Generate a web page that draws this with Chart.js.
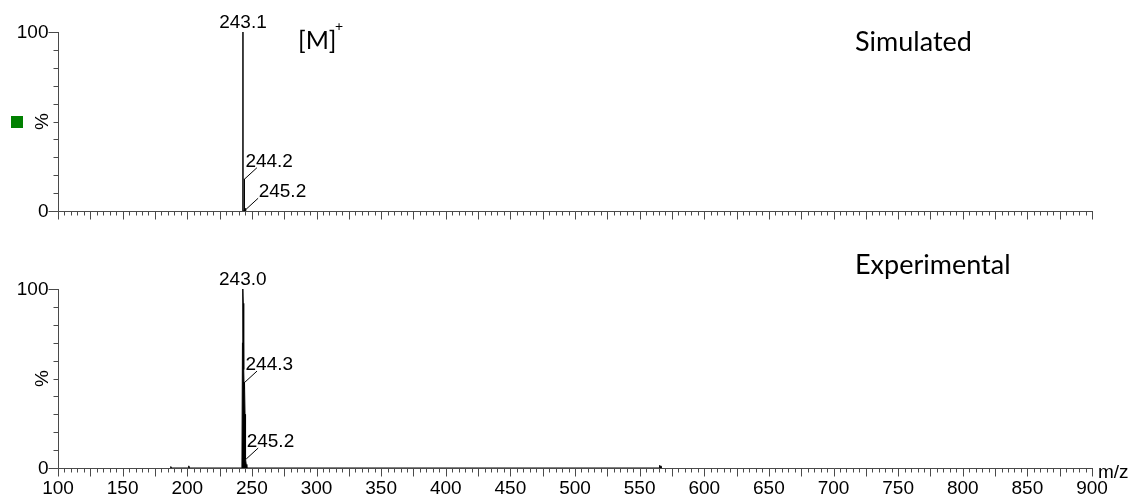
<!DOCTYPE html>
<html>
<head>
<meta charset="utf-8">
<script src="https://cdn.jsdelivr.net/npm/chart.js@4/dist/chart.umd.min.js"></script>
<style>
  body { margin: 0; background: #fff; width: 1137px; height: 497px; position: relative; overflow: hidden; }
  canvas { position: absolute; left: 0; }
  #simChart { top: 0; }
  #expChart { top: 250px; }
</style>
</head>
<body>
<canvas id="simChart" width="1137" height="245"></canvas>
<canvas id="expChart" width="1137" height="247"></canvas>
<script>
// --- data ---
const mzRange = [100, 900];
const intensityRange = [0, 100];
const xTickLabels = [100, 150, 200, 250, 300, 350, 400, 450, 500, 550, 600, 650, 700, 750, 800, 850, 900];
const yTickLabels = [0, 100];

// simulated isotope pattern (sticks)
const simMz = [243.1, 244.2, 245.2];
const simIntensity = [100, 18, 1.5];

// experimental profile
const expMz = [186.9, 187.3, 187.7, 200.8, 201.2, 201.6, 242.3, 242.7, 243.0, 243.3, 243.7, 244.0, 244.3, 244.7, 245.0, 245.2, 245.6, 246.1, 565.0, 565.5, 566.0, 566.5, 567.0];
const expIntensity = [0, 0.8, 0, 0, 1.2, 0, 0, 70, 100, 92, 55, 44, 48, 30, 9, 5, 2, 0, 0, 1.5, 0.6, 1.2, 0];

// peak annotations
const simPeakLabels = ['243.1', '244.2', '245.2'];
const simPeakMz = [243.1, 244.2, 245.2];
const simPeakInt = [100, 18, 1];
const expPeakLabels = ['243.0', '244.3', '245.2'];
const expPeakMz = [243.0, 244.3, 245.2];
const expPeakInt = [100, 48, 5];

// --- style ---
const axisColor = '#4a4a4a';
const tickFont = '19px "Liberation Sans", Arial, sans-serif';
const titleFont = '27px Lato, "Open Sans", sans-serif';

// build stick points (0 -> value -> 0) for each peak
function sticks(mz, inten) {
  const pts = [];
  mz.forEach((m, i) => {
    pts.push({ x: m, y: 0 }, { x: m, y: inten[i] }, { x: m, y: 0 });
  });
  return pts;
}

// axes, ticks, peak labels and side text drawn on the chart's own scales
const spectrumAxes = {
  id: 'spectrumAxes',
  afterDraw(chart, args, o) {
    const { ctx, scales: { x, y } } = chart;
    const base = Math.round(y.getPixelForValue(0)) + 0.5;
    const left = Math.round(x.getPixelForValue(mzRange[0])) + 0.5;
    ctx.save();
    ctx.strokeStyle = axisColor;
    ctx.lineWidth = 1;
    ctx.beginPath();
    ctx.moveTo(left, Math.round(y.getPixelForValue(100)));
    ctx.lineTo(left, base);
    ctx.lineTo(Math.round(x.getPixelForValue(mzRange[1])) + 1, base);
    // x ticks every 5, long every 25
    for (let v = mzRange[0]; v <= mzRange[1]; v += 5) {
      const px = Math.round(x.getPixelForValue(v)) + 0.5;
      const major = (v - mzRange[0]) % 25 === 0;
      ctx.moveTo(px, base);
      ctx.lineTo(px, base + (major ? 8 : 4));
    }
    // y ticks every 10, long at 0 and 100
    for (let v = 0; v <= 100; v += 10) {
      const py = Math.round(y.getPixelForValue(v)) + 0.5;
      const major = yTickLabels.includes(v);
      ctx.moveTo(left, py);
      ctx.lineTo(left - (major ? 10 : 5), py);
    }
    ctx.stroke();

    ctx.fillStyle = '#000';
    ctx.font = tickFont;
    ctx.textAlign = 'right';
    ctx.textBaseline = 'middle';
    yTickLabels.forEach(v => ctx.fillText(String(v), left - 10, y.getPixelForValue(v) + 1));

    if (o.xLabels) {
      ctx.textAlign = 'center';
      ctx.textBaseline = 'top';
      xTickLabels.forEach(v => ctx.fillText(String(v), x.getPixelForValue(v), base + 11));
      ctx.textAlign = 'left';
      ctx.textBaseline = 'alphabetic';
      ctx.fillText('m/z', x.getPixelForValue(mzRange[1]) + 6, base + 9);
    }

    // rotated %
    ctx.save();
    ctx.translate(43, (y.getPixelForValue(0) + y.getPixelForValue(100)) / 2);
    ctx.rotate(-Math.PI / 2);
    ctx.textAlign = 'center';
    ctx.textBaseline = 'middle';
    ctx.fillText('%', 0, 0);
    ctx.restore();

    // peak labels
    ctx.lineWidth = 1;
    ctx.strokeStyle = '#000';
    o.labels.forEach((txt, i) => {
      const px = x.getPixelForValue(o.mz[i]);
      const py = y.getPixelForValue(o.inten[i]);
      if (i === 0) {
        ctx.textAlign = 'center';
        ctx.textBaseline = 'alphabetic';
        ctx.fillText(txt, px, py - 4);
      } else {
        ctx.beginPath();
        ctx.moveTo(px + 0.5, py);
        ctx.lineTo(px + 12.5, py - 11);
        ctx.stroke();
        ctx.textAlign = 'left';
        ctx.textBaseline = 'alphabetic';
        ctx.fillText(txt, px + o.labelDx[i], py - 12);
      }
    });

    // panel title
    ctx.font = titleFont;
    ctx.textAlign = 'left';
    ctx.textBaseline = 'middle';
    ctx.fillText(o.title, 855, o.titleY);

    if (o.ion) {
      ctx.font = '25px Lato, "Open Sans", sans-serif';
      ctx.fillText('[M]', 298, 41);
      ctx.font = '14px Lato, "Open Sans", sans-serif';
      ctx.fillText('+', 335, 26);
      ctx.fillStyle = '#008000';
      ctx.fillRect(11, 116, 12, 12);
    }
    ctx.restore();
  }
};

function makeChart(id, datasets, pad, opts) {
  return new Chart(document.getElementById(id), {
    type: 'line',
    data: { datasets },
    options: {
      responsive: false,
      animation: false,
      events: [],
      layout: { padding: pad },
      scales: {
        x: { type: 'linear', min: mzRange[0], max: mzRange[1], display: false },
        y: { min: intensityRange[0], max: intensityRange[1], display: false }
      },
      plugins: { legend: { display: false }, tooltip: { enabled: false }, spectrumAxes: opts }
    },
    plugins: [spectrumAxes]
  });
}

// 1) simulated
makeChart('simChart', [{
  data: sticks(simMz, simIntensity),
  borderColor: '#000', borderWidth: 1, pointRadius: 0, tension: 0, clip: false
}], { left: 58, right: 45, top: 32, bottom: 34 }, {
  labels: simPeakLabels, mz: simPeakMz, inten: simPeakInt, labelDx: [0, 1, 13],
  title: 'Simulated', titleY: 42, ion: true, xLabels: false
});

// 2) experimental
makeChart('expChart', [{
  data: expMz.map((m, i) => ({ x: m, y: expIntensity[i] })),
  borderColor: '#000', backgroundColor: '#000', fill: 'origin',
  borderWidth: 1, pointRadius: 0, tension: 0, clip: false
}], { left: 58, right: 45, top: 39, bottom: 29 }, {
  labels: expPeakLabels, mz: expPeakMz, inten: expPeakInt, labelDx: [0, 1, 1],
  title: 'Experimental', titleY: 15, ion: false, xLabels: true
});
</script>
</body>
</html>
